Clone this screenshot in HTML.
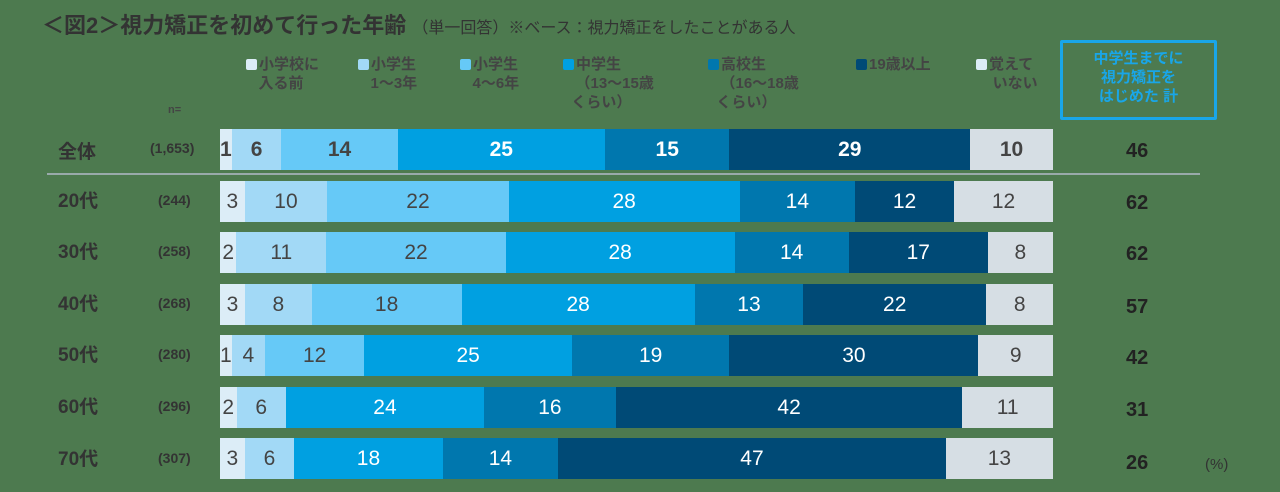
<!DOCTYPE html>
<html><head><meta charset="utf-8"><style>
body{margin:0;width:1280px;height:492px;background:#4d7a4f;font-family:"Liberation Sans","Noto Sans CJK JP",sans-serif;position:relative;overflow:hidden;color:#3a3a3a}
.a{position:absolute}
.title{left:42px;top:8px;font-size:22px;font-weight:bold;color:#333;white-space:nowrap}
.title span{font-size:16px;font-weight:normal}
.lg{font-size:15px;font-weight:bold;color:#444;line-height:19px;white-space:nowrap}
.lg i{display:inline-block;width:11px;height:11px;margin-right:2px;vertical-align:-1px;border-radius:2px}
.bar{position:absolute;left:220px;width:833px;display:flex;height:41px}
.bar div{display:flex;align-items:center;justify-content:center;font-size:21px;overflow:visible;white-space:nowrap}
.c1{background:#dcedf7;color:#444}.c2{background:#a2d9f6;color:#444}.c3{background:#66c9f7;color:#444}
.c4{background:#00a0e1;color:#fff}.c5{background:#0077ae;color:#fff}.c6{background:#004a76;color:#fff}.c7{background:#d6dee4;color:#444}
.row{position:absolute;font-weight:bold;color:#333}
.age{left:58px;font-size:19px}
.n{left:150px;font-size:14px}
.tot{left:1126px;font-size:20px;font-weight:bold;color:#222}
</style></head><body>
<div class="a title">＜図2＞視力矯正を初めて行った年齢 <span>（単一回答）※ベース：視力矯正をしたことがある人</span></div>
<div class="a lg" style="left:246px;top:55px"><i style="background:#dcedf7"></i>小学校に<br>&nbsp;&nbsp;&nbsp;入る前</div>
<div class="a lg" style="left:358px;top:55px"><i style="background:#a2d9f6"></i>小学生<br>&nbsp;&nbsp;&nbsp;1～3年</div>
<div class="a lg" style="left:460px;top:55px"><i style="background:#66c9f7"></i>小学生<br>&nbsp;&nbsp;&nbsp;4～6年</div>
<div class="a lg" style="left:563px;top:55px"><i style="background:#00a0e1"></i>中学生<br>&nbsp;&nbsp;&nbsp;（13～15歳<br>&nbsp;&nbsp;くらい）</div>
<div class="a lg" style="left:708px;top:55px"><i style="background:#0077ae"></i>高校生<br>&nbsp;&nbsp;&nbsp;（16～18歳<br>&nbsp;&nbsp;くらい）</div>
<div class="a lg" style="left:856px;top:55px"><i style="background:#004a76"></i>19歳以上</div>
<div class="a lg" style="left:976px;top:55px"><i style="background:#dcedf7"></i>覚えて<br>&nbsp;&nbsp;&nbsp;&nbsp;いない</div>
<div class="a" style="left:1060px;top:40px;width:157px;height:80px;border:3px solid #19a6e8;border-radius:2px;color:#19a6e8;font-weight:bold;font-size:15px;text-align:center;line-height:19px;padding-top:6px;box-sizing:border-box">中学生までに<br>視力矯正を<br>はじめた 計</div>
<div class="a" style="left:168px;top:104px;font-size:11px;font-weight:bold;color:#444">n=</div>
<div class="a" style="left:47px;top:173px;width:1153px;height:2px;background:#9aa"></div>

<div class="row age" style="top:137px">全体</div><div class="row n" style="top:140px">(1,653)</div>
<div class="bar" style="top:129px;font-weight:bold"><div class="c1" style="flex:1;font-weight:bold">1</div><div class="c2" style="flex:6;font-weight:bold">6</div><div class="c3" style="flex:14;font-weight:bold">14</div><div class="c4" style="flex:25;font-weight:bold">25</div><div class="c5" style="flex:15;font-weight:bold">15</div><div class="c6" style="flex:29;font-weight:bold">29</div><div class="c7" style="flex:10;font-weight:bold">10</div></div>
<div class="row tot" style="top:140px">46</div>

<div class="row age" style="top:186px">20代</div><div class="row n" style="top:192px;left:158px">(244)</div>
<div class="bar" style="top:181px"><div class="c1" style="flex:3">3</div><div class="c2" style="flex:10">10</div><div class="c3" style="flex:22">22</div><div class="c4" style="flex:28">28</div><div class="c5" style="flex:14">14</div><div class="c6" style="flex:12">12</div><div class="c7" style="flex:12">12</div></div>
<div class="row tot" style="top:192px">62</div>

<div class="row age" style="top:237px">30代</div><div class="row n" style="top:243px;left:158px">(258)</div>
<div class="bar" style="top:232px"><div class="c1" style="flex:2">2</div><div class="c2" style="flex:11">11</div><div class="c3" style="flex:22">22</div><div class="c4" style="flex:28">28</div><div class="c5" style="flex:14">14</div><div class="c6" style="flex:17">17</div><div class="c7" style="flex:8">8</div></div>
<div class="row tot" style="top:243px">62</div>

<div class="row age" style="top:289px">40代</div><div class="row n" style="top:295px;left:158px">(268)</div>
<div class="bar" style="top:284px"><div class="c1" style="flex:3">3</div><div class="c2" style="flex:8">8</div><div class="c3" style="flex:18">18</div><div class="c4" style="flex:28">28</div><div class="c5" style="flex:13">13</div><div class="c6" style="flex:22">22</div><div class="c7" style="flex:8">8</div></div>
<div class="row tot" style="top:296px">57</div>

<div class="row age" style="top:340px">50代</div><div class="row n" style="top:346px;left:158px">(280)</div>
<div class="bar" style="top:335px"><div class="c1" style="flex:1">1</div><div class="c2" style="flex:4">4</div><div class="c3" style="flex:12">12</div><div class="c4" style="flex:25">25</div><div class="c5" style="flex:19">19</div><div class="c6" style="flex:30">30</div><div class="c7" style="flex:9">9</div></div>
<div class="row tot" style="top:347px">42</div>

<div class="row age" style="top:392px">60代</div><div class="row n" style="top:398px;left:158px">(296)</div>
<div class="bar" style="top:387px"><div class="c1" style="flex:2">2</div><div class="c2" style="flex:6">6</div><div class="c4" style="flex:24">24</div><div class="c5" style="flex:16">16</div><div class="c6" style="flex:42">42</div><div class="c7" style="flex:11">11</div></div>
<div class="row tot" style="top:399px">31</div>

<div class="row age" style="top:444px">70代</div><div class="row n" style="top:450px;left:158px">(307)</div>
<div class="bar" style="top:438px"><div class="c1" style="flex:3">3</div><div class="c2" style="flex:6">6</div><div class="c4" style="flex:18">18</div><div class="c5" style="flex:14">14</div><div class="c6" style="flex:47">47</div><div class="c7" style="flex:13">13</div></div>
<div class="row tot" style="top:452px">26</div>
<div class="a" style="left:1205px;top:456px;font-size:15px;color:#333">(%)</div>
</body></html>
